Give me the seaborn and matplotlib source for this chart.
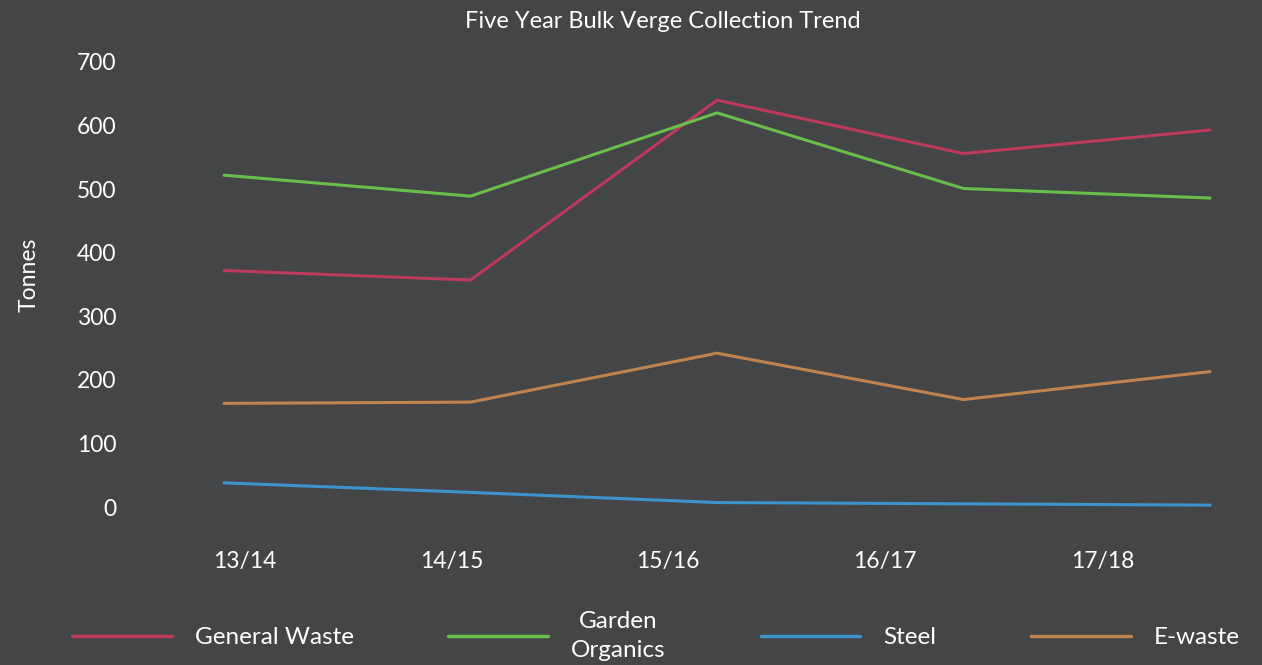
import matplotlib
matplotlib.use("Agg")
import matplotlib.pyplot as plt
import seaborn as sns
import pandas as pd

years = ["13/14", "14/15", "15/16", "16/17", "17/18"]
general_waste = [372, 357, 640, 556, 593]
garden_organics = [522, 489, 620, 501, 486]
steel = [38, 23, 7, 5, 3]
e_waste = [163, 165, 242, 169, 213]
series_names = ["General Waste", "Garden\nOrganics", "Steel", "E-waste"]
colors = ["#bd3a5c", "#6abf4c", "#3d93cc", "#bf8450"]

# x positions of the data points and of the (offset) category labels
point_pos = [0, 1, 2, 3, 4]
tick_pos = [0.085, 0.925, 1.80, 2.68, 3.565]

rows = []
for name, vals in zip(series_names, [general_waste, garden_organics, steel, e_waste]):
    for x, v in zip(point_pos, vals):
        rows.append({"x": x, "Tonnes": v, "Series": name})
df = pd.DataFrame(rows)

bg = "#444547"
sns.set_theme(style="dark")
plt.rcParams["font.family"] = ["Lato", "DejaVu Sans"]

fig = plt.figure(figsize=(12.62, 6.65), dpi=100, facecolor=bg)
W, H = 1262, 665
ax = fig.add_axes([137 / W, (H - 507) / H, (1215 - 137) / W, (507 - 62) / H])
ax.set_facecolor(bg)

sns.lineplot(data=df, x="x", y="Tonnes", hue="Series", palette=colors,
             hue_order=series_names, linewidth=2.2, ax=ax, legend=True)

ax.set_ylim(0, 700)
ax.set_xlim(-0.353, 4.02)
ax.set_yticks(range(0, 701, 100))
ax.set_xticks(tick_pos)
ax.set_xticklabels(years)
ax.tick_params(axis="y", colors="white", labelsize=16.5, pad=15, length=0)
ax.tick_params(axis="x", colors="white", labelsize=16.5, pad=32, length=0)
for s in ax.spines.values():
    s.set_visible(False)
ax.grid(False)
ax.set_xlabel("")
ax.set_ylabel("Tonnes", color="white", fontsize=16.5)
ax.yaxis.set_label_coords(-(137 - 40) / (1215 - 137), (507 - 275) / (507 - 62))

fig.text(663 / W, 1 - 22 / H, "Five Year Bulk Verge Collection Trend",
         color="white", fontsize=17, ha="center", va="center")

handles, labels = ax.get_legend_handles_labels()
ax.legend_.remove()
leg = fig.legend(handles, labels, loc="center left", bbox_to_anchor=(50 / W, 1 - 636 / H),
                 ncol=4, frameon=False, fontsize=17.5, handlelength=4.1, handletextpad=0.95,
                 columnspacing=3.9, labelcolor="white")
for t in leg.get_texts():
    t.set_ha("center")
    t.set_linespacing(1.5)
for h in leg.get_lines():
    h.set_linewidth(2.5)

fig.savefig("out.png", dpi=100, facecolor=bg)
